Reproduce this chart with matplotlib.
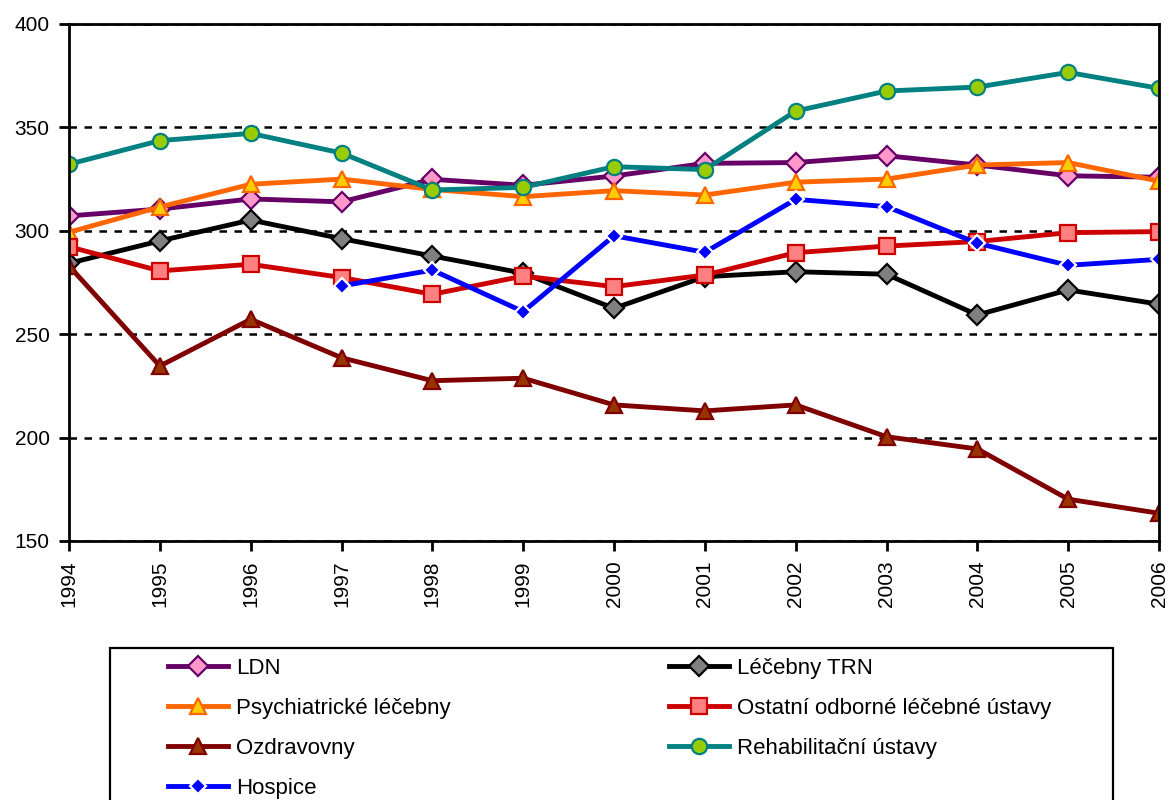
import matplotlib.pyplot as plt
import numpy as np
from matplotlib.patches import Rectangle

plt.rcParams['font.family'] = ['Liberation Sans', 'DejaVu Sans']

years = [1994, 1995, 1996, 1997, 1998, 1999, 2000, 2001, 2002, 2003, 2004, 2005, 2006]

ldn = [307.2, 310.5, 315.4, 314.0, 324.9, 322.0, 326.5, 332.6, 333.0, 336.3, 331.8, 326.6, 325.9]
trn = [284.3, 295.1, 305.2, 296.2, 287.8, 279.5, 262.5, 277.8, 280.2, 279.0, 259.3, 271.4, 264.5]
psych = [299.3, 311.5, 322.5, 325.0, 320.0, 316.5, 319.4, 317.3, 323.5, 325.0, 331.8, 333.0, 324.0]
ostatni = [292.3, 280.6, 283.8, 277.4, 269.3, 278.1, 273.0, 278.6, 289.4, 292.6, 294.8, 299.1, 299.6]
ozdrav = [283.0, 234.6, 257.2, 238.6, 227.5, 228.7, 215.8, 212.9, 215.8, 200.4, 194.5, 170.2, 163.4]
rehab = [332.2, 343.6, 347.1, 337.6, 319.7, 321.0, 331.0, 329.6, 357.9, 367.6, 369.5, 376.6, 368.9]
hospice = [np.nan, np.nan, np.nan, 273.3, 281.0, 260.9, 297.6, 289.6, 315.2, 311.7, 294.0, 283.3, 286.2]

labels = ['LDN', 'Léčebny TRN', 'Psychiatrické léčebny', 'Ostatní odborné léčebné ústavy',
          'Ozdravovny', 'Rehabilitační ústavy', 'Hospice']

fig = plt.figure(figsize=(11.7, 8), dpi=100)
ax = fig.add_axes([0.059, 0.3238, 0.9316, 0.6462])

lw = 3.5
h_ldn, = ax.plot(years, ldn, color='#660066', lw=lw, marker='D', ms=10,
                 mfc='#FF99CC', mec='#660066', mew=1.6)
h_trn, = ax.plot(years, trn, color='black', lw=lw, marker='D', ms=10,
                 mfc='#808080', mec='black', mew=1.6)
h_psych, = ax.plot(years, psych, color='#FF6600', lw=lw, marker='^', ms=12,
                   mfc='#FFCC00', mec='#FF6600', mew=1.6)
h_ost, = ax.plot(years, ostatni, color='#CC0000', lw=lw, marker='s', ms=11,
                 mfc='#FF8080', mec='#CC0000', mew=1.6)
h_ozd, = ax.plot(years, ozdrav, color='#800000', lw=lw, marker='^', ms=12,
                 mfc='#993300', mec='#800000', mew=1.6)
h_reh, = ax.plot(years, rehab, color='#008080', lw=lw, marker='o', ms=11,
                 mfc='#99CC00', mec='#008080', mew=1.6)
h_hos, = ax.plot(years, hospice, color='#0000FF', lw=lw, marker='D', ms=8.5,
                 mfc='#0000FF', mec='white', mew=1.6)

ax.set_xlim(1994, 2006)
ax.set_ylim(150, 400)
ax.set_xticks(years)
ax.set_xticklabels([str(y) for y in years], rotation=90)
ax.set_yticks([150, 200, 250, 300, 350, 400])
ax.tick_params(axis='both', direction='out', length=7, width=2, labelsize=15, pad=7, colors='black')
for s in ax.spines.values():
    s.set_linewidth(2)
    s.set_color('black')
ax.yaxis.grid(True, color='black', linestyle=(0, (3, 3)), linewidth=1.8)
ax.set_axisbelow(True)

# legend box drawn by hand, two frameless legends inside it
fig.patches.append(Rectangle((110 / 1170, -0.05), (1113 - 110) / 1170, (0.05 + 1 - 648 / 800),
                             transform=fig.transFigure, fill=False, edgecolor='black', lw=1.6))
leg_kw = dict(loc='upper left', frameon=False, fontsize=16, handlelength=2.7,
              handletextpad=0.35, labelspacing=0.85, borderpad=0, borderaxespad=0)
fig.legend([h_ldn, h_psych, h_ozd, h_hos], [labels[0], labels[2], labels[4], labels[6]],
           bbox_to_anchor=(168 / 1170, 1 - 658 / 800), **leg_kw)
fig.legend([h_trn, h_ost, h_reh], [labels[1], labels[3], labels[5]],
           bbox_to_anchor=(669 / 1170, 1 - 658 / 800), **leg_kw)

plt.savefig('out.png', dpi=100)
